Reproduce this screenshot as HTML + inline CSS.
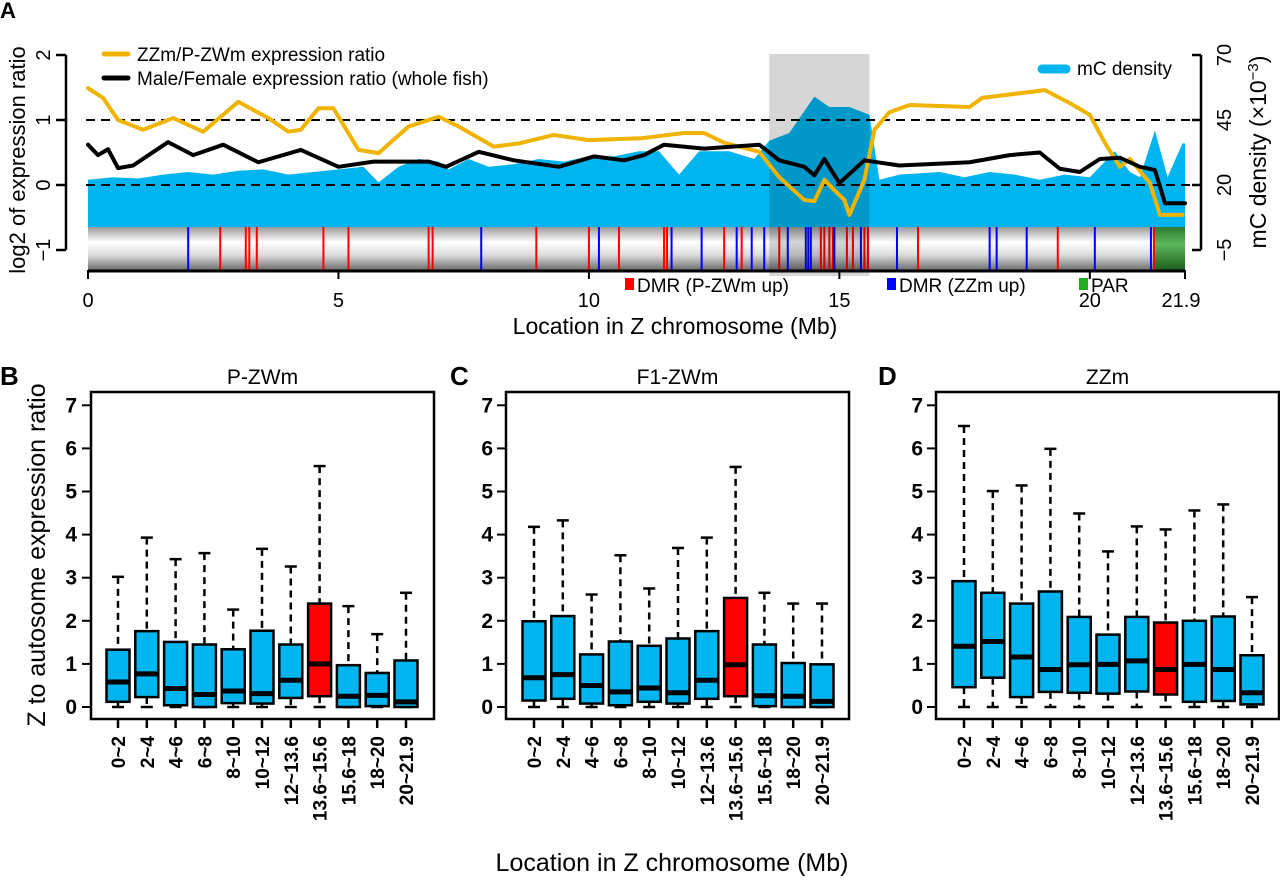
<!DOCTYPE html>
<html><head><meta charset="utf-8"><style>
html,body{margin:0;padding:0;background:#fff}
svg{display:block;font-family:"Liberation Sans",Arial,sans-serif}
</style></head><body>
<svg id="fig" width="1280" height="888" viewBox="0 0 1280 888" xmlns="http://www.w3.org/2000/svg">
<defs>
<linearGradient id="chrom" x1="0" y1="0" x2="0" y2="1">
<stop offset="0" stop-color="#9a9a9a"/><stop offset="0.35" stop-color="#ffffff"/><stop offset="0.65" stop-color="#dcdcdc"/><stop offset="1" stop-color="#6e6e6e"/>
</linearGradient>
<linearGradient id="par" x1="0" y1="0" x2="0" y2="1">
<stop offset="0" stop-color="#2f7a2f"/><stop offset="0.4" stop-color="#5cb85c"/><stop offset="1" stop-color="#1f5f1f"/>
</linearGradient>
</defs>
<g id="panelA"></g>
<g id="panelB"></g>
<g id="panelC"></g>
<g id="panelD"></g>
</svg>
<script>
// ---------- Panel A data ----------
const yellowPos = [0,0.3,0.6,1.1,1.7,2.3,3.0,3.6,4.0,4.25,4.6,4.9,5.4,5.8,6.4,7.0,7.4,8.1,8.6,9.3,10.0,11.05,11.9,12.3,12.7,13.4,13.8,14.3,14.5,14.7,14.9,15.1,15.2,15.5,15.7,16.0,16.4,17.6,17.85,19.1,19.6,20.0,20.3,20.6,20.8,21.2,21.4,21.85];
const yellowVal = [1.49,1.34,1.0,0.85,1.03,0.82,1.28,1.03,0.82,0.85,1.18,1.18,0.54,0.49,0.9,1.05,0.9,0.59,0.64,0.77,0.69,0.72,0.8,0.8,0.65,0.51,0.12,-0.23,-0.25,0.08,-0.08,-0.23,-0.46,0.08,0.85,1.12,1.23,1.2,1.34,1.46,1.26,1.08,0.65,0.28,0.4,0.03,-0.46,-0.46];
const blackPos = [0,0.2,0.4,0.6,0.9,1.6,2.1,2.7,3.4,4.25,5.0,5.7,6.8,7.15,7.8,8.5,9.4,10.1,10.7,11.1,11.5,12.3,13.4,13.8,14.3,14.5,14.7,15.0,15.5,16.2,17.6,18.4,19.0,19.4,19.8,20.2,20.6,21.0,21.3,21.5,21.9];
const blackVal = [0.62,0.46,0.55,0.26,0.3,0.66,0.46,0.62,0.35,0.54,0.28,0.36,0.36,0.28,0.51,0.38,0.28,0.44,0.38,0.46,0.62,0.56,0.62,0.38,0.28,0.15,0.4,0.03,0.38,0.3,0.35,0.46,0.5,0.25,0.2,0.4,0.42,0.28,0.23,-0.28,-0.28];
const densPos = [0,0.5,1,1.5,2,2.5,3,3.5,4,4.5,5,5.5,5.8,6.2,6.6,7,7.2,7.6,8,8.5,9,9.5,10,10.5,11,11.4,11.8,12.2,12.8,13.3,13.6,14,14.5,14.8,15.2,15.6,15.8,16.2,17,17.5,18,18.5,19,19.5,20,20.5,20.8,21.0,21.3,21.55,21.85,21.9];
const densVal = [22,23,22.5,24,25,24,25.5,26,24,25,26,27,21,27,30,29,26,30,27,28,30,29,31,31,33,33,24,33,33,30,37,40,54,50,50,47,22,24,25,23,25,24,22,24,23,33,25,23,41,23,36,36];
const dmrUpPZWm = [2.64,3.15,3.22,3.37,4.7,5.2,6.8,6.88,8.95,10.0,10.6,11.5,11.56,12.7,13.05,13.8,14.63,14.7,14.8,14.87,15.15,15.27,15.5,15.57,16.57,19.36,21.28];
const dmrUpZZm = [2.0,7.85,10.2,11.65,12.25,12.95,13.25,13.5,13.97,14.33,14.38,14.43,14.9,15.43,16.15,18.0,18.14,18.74,20.1,21.22];
const xTicksA = [0,5,10,15,20,21.9];
const yTicksLeft = [-1,0,1,2];
const yTicksRight = [-5,20,45,70];
const shadeRange = [13.6,15.6];
const parRange = [21.3,21.9];

// ---------- Boxplot data ----------
const bins = ["0~2","2~4","4~6","6~8","8~10","10~12","12~13.6","13.6~15.6","15.6~18","18~20","20~21.9"];
const highlightBin = 7;
const bMed=[0.58,0.77,0.43,0.29,0.37,0.31,0.62,1.0,0.25,0.27,0.12];
const bQ1=[0.12,0.23,0.04,0,0.09,0.08,0.21,0.25,0,0.02,0];
const bQ3=[1.33,1.76,1.51,1.45,1.34,1.77,1.45,2.4,0.97,0.79,1.08];
const bHi=[3.02,3.93,3.43,3.57,2.26,3.67,3.26,5.59,2.34,1.69,2.65];
const bLo=[0,0,0,0,0,0,0,0,0,0,0];
const cMed=[0.68,0.75,0.5,0.35,0.44,0.33,0.62,0.98,0.26,0.25,0.13];
const cQ1=[0.15,0.19,0.08,0.04,0.12,0.08,0.19,0.25,0.02,0,0];
const cQ3=[1.99,2.11,1.22,1.52,1.42,1.59,1.76,2.53,1.45,1.02,0.99];
const cHi=[4.18,4.33,2.61,3.52,2.75,3.69,3.93,5.57,2.65,2.4,2.4];
const cLo=[0,0,0,0,0,0,0,0,0,0,0];
const dMed=[1.41,1.52,1.16,0.87,0.98,0.99,1.07,0.87,0.99,0.87,0.33];
const dQ1=[0.46,0.68,0.23,0.35,0.33,0.31,0.36,0.29,0.12,0.14,0.06];
const dQ3=[2.92,2.65,2.4,2.68,2.09,1.68,2.09,1.96,2.0,2.1,1.2];
const dHi=[6.52,5.01,5.14,5.99,4.49,3.61,4.19,4.12,4.56,4.7,2.55];
const dLo=[0,0,0,0,0,0,0,0,0,0,0];
const yTicksBox=[0,1,2,3,4,5,6,7];

const NS="http://www.w3.org/2000/svg";
function mk(parent,tag,attrs,text){const e=document.createElementNS(NS,tag);for(const k in attrs)e.setAttribute(k,attrs[k]);if(text!==undefined)e.textContent=text;parent.appendChild(e);return e;}

// ---------- Panel A ----------
(function(){
const g=document.getElementById('panelA');
const X0=88,X1=1185,XMAX=21.9;
const xs=v=>X0+(X1-X0)*v/XMAX;
const yL=v=>185-65*v;
const yR=d=>185-65*(d-20)/25;
const barTop=227,barBot=270;

let t=mk(g,'text',{x:0,y:18,'font-size':22,'font-weight':'bold'},'A');


let dpts=densPos.map((p,i)=>xs(p)+','+yR(densVal[i]));
let dpath='M'+xs(densPos[0])+','+barTop+' L'+dpts.join(' L')+' L'+xs(densPos[densPos.length-1])+','+barTop+' Z';
let df=mk(g,'path',{d:dpath,fill:'#00b5ef',stroke:'none'});


let cb=mk(g,'rect',{x:X0,y:barTop,width:X1-X0,height:barBot-barTop,fill:'url(#chrom)'});

let par=mk(g,'rect',{x:xs(parRange[0]),y:barTop,width:xs(parRange[1])-xs(parRange[0]),height:barBot-barTop,fill:'url(#par)'});

dmrUpPZWm.forEach(p=>{const l=mk(g,'line',{x1:xs(p),x2:xs(p),y1:barTop,y2:barBot,stroke:'#ff0000','stroke-width':2});
});
dmrUpZZm.forEach(p=>{const l=mk(g,'line',{x1:xs(p),x2:xs(p),y1:barTop,y2:barBot,stroke:'#0000ff','stroke-width':2});
});

let sh=mk(g,'rect',{x:xs(shadeRange[0]),y:54,width:xs(shadeRange[1])-xs(shadeRange[0]),height:222,fill:'#d6d6d6',style:'mix-blend-mode:multiply'});


[1,0].forEach(v=>{const l=mk(g,'line',{x1:X0-2,x2:1198,y1:yL(v),y2:yL(v),stroke:'#000','stroke-width':2,'stroke-dasharray':'9,6'});
});

let yl=mk(g,'polyline',{points:yellowPos.map((p,i)=>xs(p)+','+yL(yellowVal[i])).join(' '),fill:'none',stroke:'#f0b400','stroke-width':4,'stroke-linejoin':'round','stroke-linecap':'round'});

let bl=mk(g,'polyline',{points:blackPos.map((p,i)=>xs(p)+','+yL(blackVal[i])).join(' '),fill:'none',stroke:'#000','stroke-width':4,'stroke-linejoin':'round','stroke-linecap':'round'});


let xa=mk(g,'line',{x1:X0,x2:X1,y1:barBot+1,y2:barBot+1,stroke:'#000','stroke-width':3});

xTicksA.forEach(v=>{const tk=mk(g,'line',{x1:xs(v),x2:xs(v),y1:barBot,y2:barBot+9,stroke:'#000','stroke-width':2});

const lb=mk(g,'text',{x:xs(v)+(v===21.9?-4:0),y:307,'font-size':20,'text-anchor':'middle'},String(v));
});
let xt=mk(g,'text',{x:675,y:334,'font-size':23,'text-anchor':'middle'},'Location in Z chromosome (Mb)');


let la=mk(g,'line',{x1:66,x2:66,y1:yL(2),y2:yL(-1),stroke:'#000','stroke-width':2.5});

yTicksLeft.forEach(v=>{const tk=mk(g,'line',{x1:56,x2:66,y1:yL(v),y2:yL(v),stroke:'#000','stroke-width':2.5});

const lb=mk(g,'text',{x:0,y:0,'font-size':20,'text-anchor':'middle',transform:'translate(50,'+yL(v)+') rotate(-90)'},v<0?'\u2212'+Math.abs(v):String(v));
});
let lt=mk(g,'text',{x:0,y:0,'font-size':22,'text-anchor':'middle',transform:'translate(25,160) rotate(-90)'},'log2 of expression ratio');


let ra=mk(g,'line',{x1:1201,x2:1201,y1:yR(70),y2:yR(-5),stroke:'#000','stroke-width':2.5});

yTicksRight.forEach(v=>{const tk=mk(g,'line',{x1:1192,x2:1201,y1:yR(v),y2:yR(v),stroke:'#000','stroke-width':2.5});

const lb=mk(g,'text',{x:0,y:0,'font-size':20,'text-anchor':'middle',transform:'translate(1231,'+yR(v)+') rotate(-90)'},v<0?'\u2212'+Math.abs(v):String(v));
});
let rt=mk(g,'text',{x:0,y:0,'font-size':23,'text-anchor':'middle',transform:'translate(1266,152) rotate(-90)'});

rt.innerHTML='mC density (\u00d710<tspan dy="-8" font-size="15">\u22123</tspan><tspan dy="8">)</tspan>';

let lg=mk(g,'g',{});
let l1=mk(lg,'line',{x1:104,x2:128,y1:54,y2:54,stroke:'#f0b400','stroke-width':5,'stroke-linecap':'round'});

let t1=mk(lg,'text',{x:137,y:61,'font-size':19},'ZZm/P-ZWm expression ratio');

let l2=mk(lg,'line',{x1:104,x2:128,y1:78,y2:78,stroke:'#000','stroke-width':5,'stroke-linecap':'round'});

let t2=mk(lg,'text',{x:137,y:85,'font-size':19},'Male/Female expression ratio (whole fish)');

let l3=mk(lg,'line',{x1:1042,x2:1066,y1:69,y2:69,stroke:'#00b5ef','stroke-width':9,'stroke-linecap':'round'});

let t3=mk(lg,'text',{x:1077,y:75,'font-size':19},'mC density');


let lg2=mk(g,'g',{});
const items=[[625,'#ff0000','DMR (P-ZWm up)'],[887,'#0000ff','DMR (ZZm up)'],[1079,'#22aa22','PAR']];
items.forEach(it=>{const r=mk(lg2,'rect',{x:it[0],y:278,width:9,height:12,fill:it[1]});

const tx=mk(lg2,'text',{x:it[0]+12,y:292,'font-size':19},it[2]);
});
})();

// ---------- Boxplots ----------
function boxPanel(id,letter,title,frameL,frameR,c0,c10,med,q1,q3,hi,lo,letterX,tickLabX){
const g=document.getElementById(id);
const Y0=707,PU=43.1;
const ys=v=>Y0-PU*v;
const cx=i=>c0+(c10-c0)*i/(bins.length-1);
let L=mk(g,'text',{x:letterX,y:385,'font-size':26,'font-weight':'bold'},letter);

let T=mk(g,'text',{x:(frameL+frameR)/2,y:384,'font-size':21,'text-anchor':'middle'},title);

let F=mk(g,'rect',{x:frameL,y:392,width:frameR-frameL,height:327,fill:'none',stroke:'#000','stroke-width':2.5});

yTicksBox.forEach(v=>{const tk=mk(g,'line',{x1:frameL-9,x2:frameL,y1:ys(v),y2:ys(v),stroke:'#000','stroke-width':2});

const lb=mk(g,'text',{x:tickLabX,y:ys(v)+7,'font-size':21,'font-weight':'bold','text-anchor':'end'},String(v));
});
bins.forEach((b,i)=>{
const x=cx(i);const hw=11.5;
const grp=mk(g,'g',{});
const wu=mk(grp,'line',{x1:x,x2:x,y1:ys(hi[i]),y2:ys(q3[i]),stroke:'#000','stroke-width':2.5,'stroke-dasharray':'7,5'});

const wl=mk(grp,'line',{x1:x,x2:x,y1:ys(q1[i]),y2:ys(lo[i]),stroke:'#000','stroke-width':2.5,'stroke-dasharray':'7,5'});

const cu=mk(grp,'line',{x1:x-6,x2:x+6,y1:ys(hi[i]),y2:ys(hi[i]),stroke:'#000','stroke-width':2.5});

const cl=mk(grp,'line',{x1:x-6,x2:x+6,y1:ys(lo[i]),y2:ys(lo[i]),stroke:'#000','stroke-width':2.5});

const r=mk(grp,'rect',{x:x-hw,y:ys(q3[i]),width:2*hw,height:Math.max(ys(q1[i])-ys(q3[i]),0.5),fill:i===highlightBin?'#ff0000':'#00b5ef',stroke:'#000','stroke-width':2.5});

const m=mk(grp,'line',{x1:x-hw,x2:x+hw,y1:ys(med[i]),y2:ys(med[i]),stroke:'#000','stroke-width':5});

const tk=mk(g,'line',{x1:x,x2:x,y1:719,y2:728,stroke:'#000','stroke-width':2.5});

const lb=mk(g,'text',{x:0,y:0,'font-size':19,'font-weight':'bold','text-anchor':'end',transform:'translate('+(x+7)+',736) rotate(-90)'},b);

});
}
boxPanel('panelB','B','P-ZWm',91,434,118,406,bMed,bQ1,bQ3,bHi,bLo,0,77);
boxPanel('panelC','C','F1-ZWm',506,849,534,822,cMed,cQ1,cQ3,cHi,cLo,450,493);
boxPanel('panelD','D','ZZm',936,1279,964,1252,dMed,dQ1,dQ3,dHi,dLo,878,923);

const svg=document.getElementById('fig');
let yt=document.createElementNS(NS,'text');


yt.setAttribute('font-size','25');yt.setAttribute('text-anchor','middle');
yt.setAttribute('transform','translate(45,555) rotate(-90)');
yt.textContent='Z to autosome expression ratio';svg.appendChild(yt);
let xt2=document.createElementNS(NS,'text');


xt2.setAttribute('font-size','25');xt2.setAttribute('text-anchor','middle');
xt2.setAttribute('x','672');xt2.setAttribute('y','871');
xt2.textContent='Location in Z chromosome (Mb)';svg.appendChild(xt2);
</script>
</body></html>
